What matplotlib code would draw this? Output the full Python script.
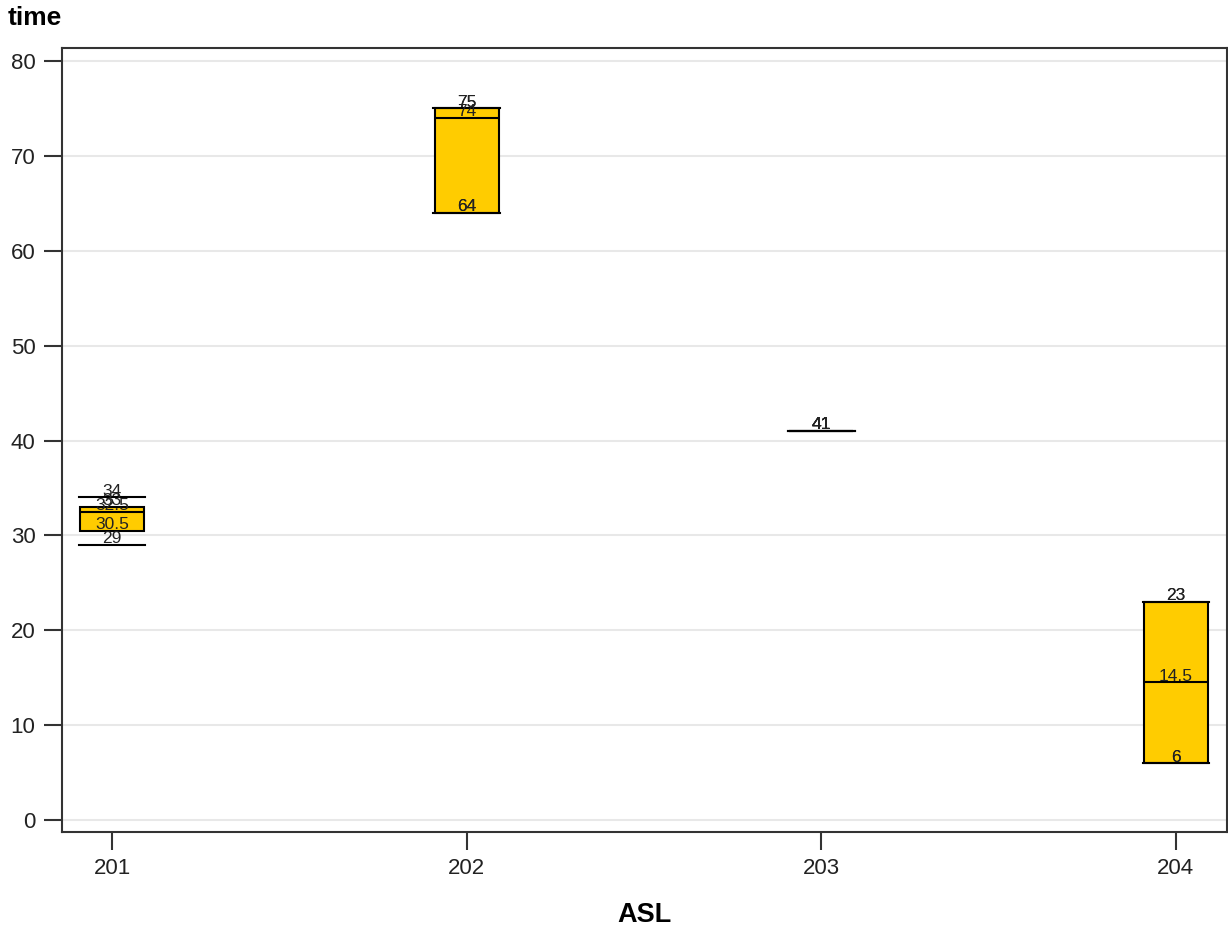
import matplotlib
matplotlib.use("Agg")
import matplotlib.pyplot as plt

categories = ["201", "202", "203", "204"]
mins = [29, 64, 41, 6]
q1s = [30.5, 64, 41, 6]
medians = [32.5, 74, 41, 14.5]
q3s = [33, 75, 41, 23]
maxs = [34, 75, 41, 23]
yticks = [0, 10, 20, 30, 40, 50, 60, 70, 80]

plt.rcParams['font.family'] = ['Liberation Sans', 'DejaVu Sans']

fig = plt.figure(figsize=(12.28, 9.26), dpi=100)
ax = fig.add_axes([62/1228, 94/926, (1227-62)/1228, (832-48)/926])

positions = list(range(len(categories)))
stats = []
for c, lo, a, m, b, hi in zip(categories, mins, q1s, medians, q3s, maxs):
    stats.append(dict(label=c, whislo=lo, q1=a, med=m, q3=b, whishi=hi, fliers=[]))

ax.bxp(stats, positions=positions, widths=0.18, capwidths=0.188, patch_artist=True,
       showfliers=False,
       boxprops=dict(facecolor="#FFCC00", edgecolor="black", linewidth=1.5),
       medianprops=dict(color="black", linewidth=1.5),
       whiskerprops=dict(linewidth=0),
       capprops=dict(color="black", linewidth=1.5),
       zorder=3)

for p, vals in zip(positions, zip(mins, q1s, medians, q3s, maxs)):
    for v in vals:
        ax.text(p, v - 0.15, f"{v:g}", ha="center", va="bottom", fontsize=12.5,
                color="#222222", zorder=4)

ax.set_xlim(-0.141, 3.144)
ax.set_ylim(-1.26, 81.37)
ax.set_xticks(positions)
ax.set_xticklabels(categories)
ax.set_yticks(yticks)
ax.yaxis.grid(True, color="#e8e8e8", linewidth=1.5)
ax.set_axisbelow(True)
for s in ax.spines.values():
    s.set_linewidth(1.5)
    s.set_color("#333333")
ax.tick_params(axis="both", labelsize=16, length=13, width=1.5, color="#333333",
               labelcolor="#222222", pad=6)
ax.set_xlabel("ASL", fontsize=19.5, fontweight="bold", labelpad=16)
fig.text(8/1228, 1 - 18/926, "time", fontsize=19, fontweight="bold", va="center", ha="left")

fig.savefig("out.png", dpi=100)
